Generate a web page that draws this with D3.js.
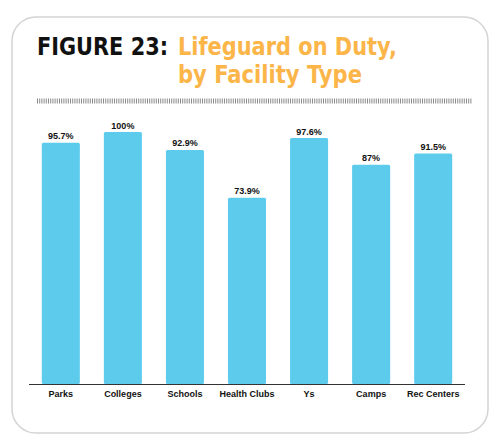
<!DOCTYPE html>
<html><head><meta charset="utf-8">
<script src="https://cdn.jsdelivr.net/npm/d3@7"></script>
<style>body{margin:0;background:#fff}svg{display:block}</style>
</head><body>
<script>
const categories = ["Parks","Colleges","Schools","Health Clubs","Ys","Camps","Rec Centers"];
const values = [95.7, 100, 92.9, 73.9, 97.6, 87, 91.5];
const valueLabels = ["95.7%","100%","92.9%","73.9%","97.6%","87%","91.5%"];

const W = 500, H = 447;
const svg = d3.select("body").append("svg").attr("width", W).attr("height", H);

// frame
svg.append("rect").attr("x", 12).attr("y", 17).attr("width", 476).attr("height", 416)
  .attr("rx", 24).attr("fill", "#fff").attr("stroke", "#d4d4d4").attr("stroke-width", 1.5);

// title
const tf = "'DejaVu Sans', sans-serif";
const title = svg.append("text").attr("font-family", tf).attr("font-weight", "bold").attr("font-size", 24);
title.append("tspan").attr("x", 37).attr("y", 55).attr("fill", "#111")
  .attr("textLength", 131).attr("lengthAdjust", "spacingAndGlyphs").text("FIGURE 23:");
title.append("tspan").attr("x", 178).attr("y", 55).attr("fill", "#FBB549")
  .attr("textLength", 219).attr("lengthAdjust", "spacingAndGlyphs").text("Lifeguard on Duty,");
title.append("tspan").attr("x", 178).attr("y", 83).attr("fill", "#FBB549")
  .attr("textLength", 184).attr("lengthAdjust", "spacingAndGlyphs").text("by Facility Type");

// dotted rule
svg.append("line").attr("x1", 37).attr("x2", 472).attr("y1", 101).attr("y2", 101)
  .attr("stroke", "#8a8a8a").attr("stroke-width", 5).attr("stroke-dasharray", "1,1.2");

const x = d3.scaleBand().domain(categories).range([30, 464]).paddingInner(0.387).paddingOuter(0.19);
const y = d3.scaleLinear().domain([0, 100]).range([384, 132]);

svg.append("g").selectAll("rect").data(categories).join("rect")
  .attr("x", d => x(d)).attr("width", x.bandwidth())
  .attr("y", (d, i) => y(values[i])).attr("height", (d, i) => y(0) - y(values[i]))
  .attr("rx", 1.5).attr("fill", "#5DCBEC");

svg.append("g").selectAll("text").data(categories).join("text")
  .attr("x", d => x(d) + x.bandwidth() / 2).attr("y", (d, i) => y(values[i]) - 3.5)
  .attr("text-anchor", "middle").attr("font-family", "'Liberation Sans', Arial, sans-serif")
  .attr("font-weight", "bold").attr("font-size", 9).attr("fill", "#111")
  .text((d, i) => valueLabels[i]);

const axis = svg.append("g").attr("transform", "translate(0,384)")
  .call(d3.axisBottom(x).tickSize(0).tickPadding(7));
axis.select(".domain").attr("d", "M29,0.5H465").attr("stroke", "#333").attr("stroke-width", 1.2);
axis.selectAll("text").attr("font-family", "'Liberation Sans', Arial, sans-serif")
  .attr("font-weight", "bold").attr("font-size", 9).attr("fill", "#111");
</script>
</body></html>
